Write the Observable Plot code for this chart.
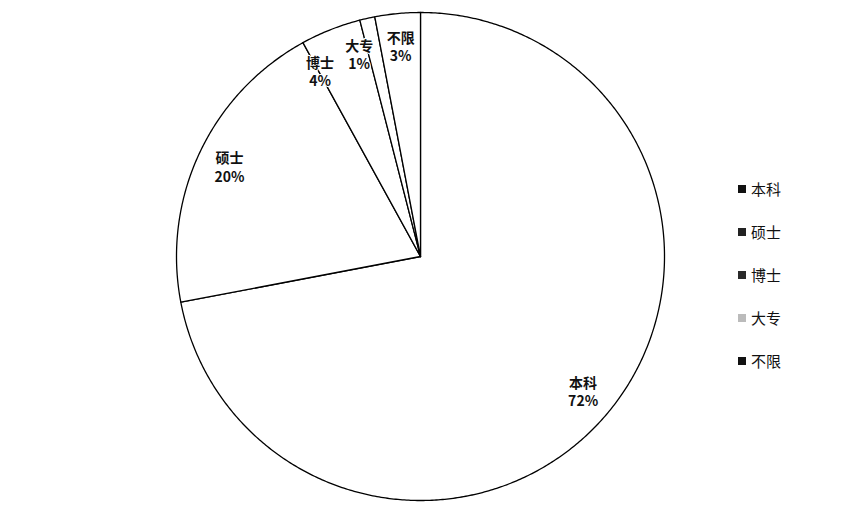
<!DOCTYPE html>
<html>
<head>
<meta charset="utf-8">
<script src="https://cdn.jsdelivr.net/npm/d3@7"></script>
<script src="https://cdn.jsdelivr.net/npm/@observablehq/plot@0.6"></script>
<style>
  html, body { margin: 0; padding: 0; background: #fff; }
  #wrap { position: relative; width: 854px; height: 516px; font-family: "Noto Sans CJK SC", sans-serif; }
  #legend { position: absolute; left: 738px; top: 167px; }
  .item { height: 43px; display: flex; align-items: center; font-size: 15px; color: #111; }
  .sw { width: 8px; height: 8px; margin-right: 5px; box-sizing: border-box; }
</style>
</head>
<body>
<div id="wrap"><div id="chart"></div><div id="legend"></div></div>
<script>
const categories = ["本科", "硕士", "博士", "大专", "不限"];
const values = [72, 20, 4, 1, 3];
const percentLabels = ["72%", "20%", "4%", "1%", "3%"];
const swatchColors = ["#111", "#222", "#2a2a2a", "#bbb", "#111"];

const W = 854, H = 516, CX = 420, CY = 256, R = 244;
const total = d3.sum(values);

// slice polygons in unit-circle coordinates (angle clockwise from top)
const pts = [];
const mids = [];
let acc = 0;
categories.forEach((c, i) => {
  const a0 = acc / total * 2 * Math.PI;
  acc += values[i];
  const a1 = acc / total * 2 * Math.PI;
  pts.push({cat: c, x: 0, y: 0});
  const n = Math.max(2, Math.ceil((a1 - a0) / (Math.PI / 360)));
  for (let k = 0; k <= n; k++) {
    const a = a0 + (a1 - a0) * k / n;
    pts.push({cat: c, x: Math.sin(a), y: Math.cos(a)});
  }
  pts.push({cat: c, x: 0, y: 0});
  mids.push((a0 + a1) / 2);
});
// simple collision avoidance: keep a minimum angular gap between neighbouring labels
const minGap = 11.5 * Math.PI / 180;
for (let i = mids.length - 2; i >= 0; i--) {
  if (mids[i + 1] - mids[i] < minGap) mids[i] = mids[i + 1] - minGap;
}
const rl = 0.865;
const labelPts = categories.map((c, i) => ({
  x: Math.sin(mids[i]) * rl, y: Math.cos(mids[i]) * rl, text: c + "\n" + percentLabels[i]
}));

const chart = Plot.plot({
  width: W, height: H, margin: 0,
  x: {domain: [-CX / R, (W - CX) / R], range: [0, W], axis: null},
  y: {domain: [(CY - H) / R, CY / R], range: [H, 0], axis: null},
  style: {background: "#fff", fontFamily: "Noto Sans CJK SC, sans-serif"},
  marks: [
    Plot.line(pts, {x: "x", y: "y", z: "cat", fill: "#fff", stroke: "#000", strokeWidth: 1.3, strokeLinejoin: "round"}),
    Plot.text(labelPts, {x: "x", y: "y", text: "text", fontSize: 14, fontWeight: "bold", fill: "#111", lineHeight: 1.3, stroke: "#fff", strokeWidth: 2})
  ]
});
document.getElementById("chart").appendChild(chart);

const legend = document.getElementById("legend");
categories.forEach((c, i) => {
  const item = document.createElement("div");
  item.className = "item";
  const sw = document.createElement("div");
  sw.className = "sw";
  sw.style.background = swatchColors[i];
  item.appendChild(sw);
  item.appendChild(document.createTextNode(c));
  legend.appendChild(item);
});
</script>
</body>
</html>
